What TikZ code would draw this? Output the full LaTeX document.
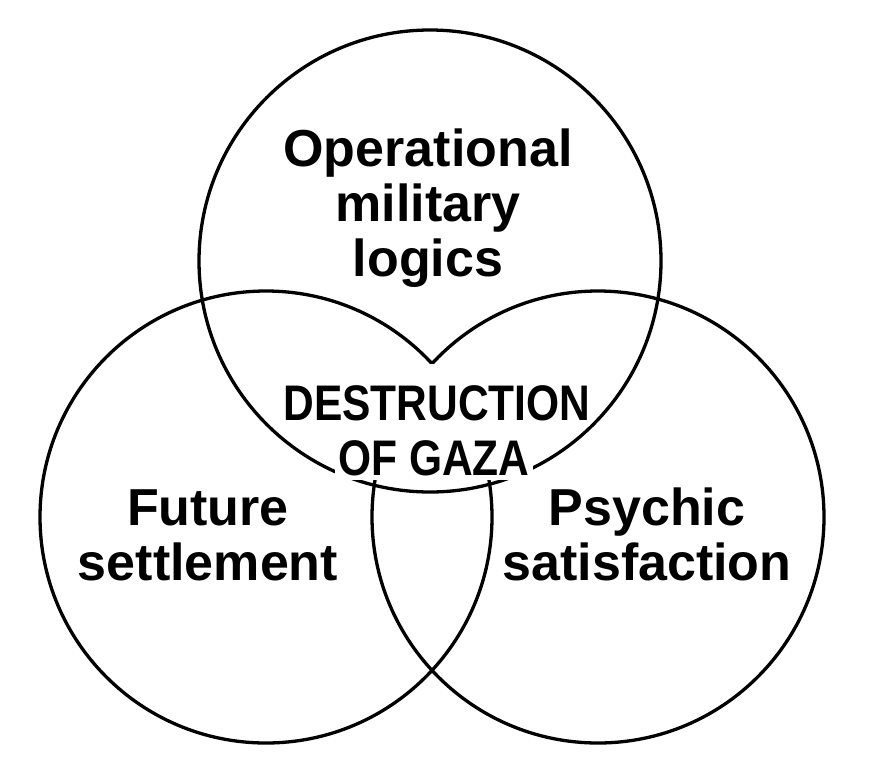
\documentclass[tikz,border=0pt]{standalone}
\usepackage{fontspec}
\setmainfont{Liberation Sans}
\newfontfamily\gazafont[FakeStretch=0.85]{Liberation Sans}
\usetikzlibrary{positioning}

\begin{document}
\begin{tikzpicture}[line cap=round,line join=round,
  ring/.style={draw=black,line width=3.3pt},
  setlabel/.style={align=center,inner sep=0pt,
    font=\fontsize{52}{55}\selectfont\bfseries},
  corelabel/.style={fill=white,inner xsep=0pt,inner ysep=0pt,
    font=\gazafont\fontsize{50}{55}\selectfont\bfseries}]
\begin{scope}[x=1pt,y=-1pt]
  \path[use as bounding box] (0,0) rectangle (882,782);
  \fill[white] (0,0) rectangle (882,782);
  % the three sets
  \draw[ring] (430,261) circle[radius=231];
  \draw[ring] (266,517) circle[radius=226];
  \draw[ring] (598,517) circle[radius=226];
  % set names (base = last line)
  \node[setlabel,anchor=base] (military) at (428,276) {Operational\\military\\logics};
  \node[setlabel,anchor=base] (settlement) at (208,580) {Future\\settlement};
  \node[setlabel,anchor=base] (psychic) at (647,580) {Psychic\\satisfaction};
  % common part, white boxes hide the arcs behind the words
  \node[corelabel,anchor=base,text height=56pt,text depth=6pt] (destruction) at (437,420) {DESTRUCTION};
  \node[corelabel,below=0pt of destruction,xshift=-3pt,inner xsep=3pt,text height=49pt,text depth=5pt] (gaza) {OF GAZA};
\end{scope}
\end{tikzpicture}
\end{document}
